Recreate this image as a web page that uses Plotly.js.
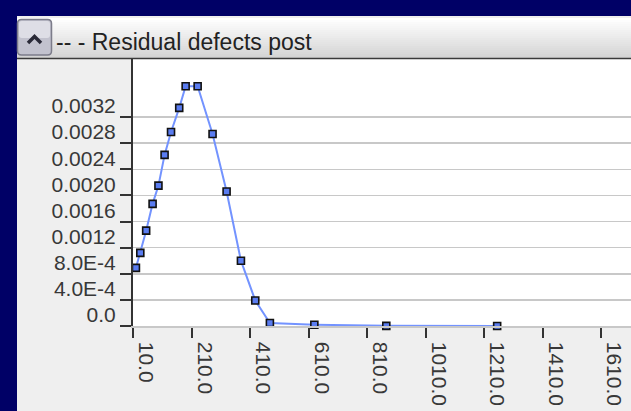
<!DOCTYPE html>
<html>
<head>
<meta charset="utf-8">
<script src="https://cdn.plot.ly/plotly-3.0.1.min.js"></script>
<style>html,body{margin:0;padding:0;background:#000066;}#chart{width:631px;height:411px;}</style>
</head>
<body>
<div id="chart"></div>
<script>
// ---- data ----
const chartTitle = "-- - Residual defects post";
const xValues = [20, 35, 55, 77, 97, 118, 140, 168, 190, 231, 282, 330, 379, 428, 478, 630, 876, 1255];
const yValues = [0.00089, 0.00112, 0.00146, 0.00187, 0.00215, 0.00262, 0.00297, 0.00334, 0.00367, 0.00367,
                 0.00294, 0.00206, 0.00100, 0.00039, 0.000046, 0.00002, 0.000002, 0.000001];
const xTickVals = [10, 210, 410, 610, 810, 1010, 1210, 1410, 1610];
const xTickText = ["10.0", "210.0", "410.0", "610.0", "810.0", "1010.0", "1210.0", "1410.0", "1610.0"];
const yTickVals = [0, 0.0004, 0.0008, 0.0012, 0.0016, 0.0020, 0.0024, 0.0028, 0.0032];
const yTickText = ["0.0", "4.0E-4", "8.0E-4", "0.0012", "0.0016", "0.0020", "0.0024", "0.0028", "0.0032"];

// ---- layout helpers (pixel -> paper) ----
const W = 631, H = 411;
const px = v => v / W;
const py = v => 1 - v / H;

const shapes = [];
// navy frame
shapes.push({type:'rect', xref:'paper', yref:'paper', x0:0, x1:px(17), y0:0, y1:1, fillcolor:'#000066', line:{width:0}});
shapes.push({type:'rect', xref:'paper', yref:'paper', x0:0, x1:1, y0:py(16), y1:1, fillcolor:'#000066', line:{width:0}});
// title bar gradient
const gTop = 18, gBot = 58, steps = 20;
for (let i = 0; i < steps; i++) {
  const t = i / (steps - 1);
  const c = Math.round(255 - t * (255 - 212));
  const y0 = gTop + (gBot - gTop) * i / steps, y1 = gTop + (gBot - gTop) * (i + 1) / steps;
  shapes.push({type:'rect', xref:'paper', yref:'paper', x0:px(17), x1:1, y0:py(y1), y1:py(y0),
    fillcolor:`rgb(${c},${c},${c})`, line:{width:0}});
}
shapes.push({type:'line', xref:'paper', yref:'paper', x0:px(17), x1:1, y0:py(58.5), y1:py(58.5), line:{color:'#3a3a3a', width:1.6}});
// collapse button
function rr(x0, y0, x1, y1, r) {
  const X = px, Y = py;
  return `M${X(x0+r)},${Y(y0)} L${X(x1-r)},${Y(y0)} Q${X(x1)},${Y(y0)} ${X(x1)},${Y(y0+r)} L${X(x1)},${Y(y1-r)} Q${X(x1)},${Y(y1)} ${X(x1-r)},${Y(y1)} L${X(x0+r)},${Y(y1)} Q${X(x0)},${Y(y1)} ${X(x0)},${Y(y1-r)} L${X(x0)},${Y(y0+r)} Q${X(x0)},${Y(y0)} ${X(x0+r)},${Y(y0)} Z`;
}
shapes.push({type:'path', xref:'paper', yref:'paper', path: rr(17.5, 19.5, 51.5, 55, 4), fillcolor:'#c2c2ce', line:{color:'#7c7c8a', width:1.5}});
shapes.push({type:'path', xref:'paper', yref:'paper', path: rr(19, 21, 50, 38, 3), fillcolor:'#dedee6', line:{width:0}});
shapes.push({type:'path', xref:'paper', yref:'paper', path:`M${px(28)},${py(43)} L${px(34.5)},${py(36.5)} L${px(41)},${py(43)}`, line:{color:'#2a2a38', width:3.5}});

const trace = {
  x: xValues, y: yValues, type:'scatter', mode:'lines+markers',
  line:{color:'#7393ff', width:2},
  marker:{symbol:'square', size:7, color:'#5a7cf0', line:{color:'#111111', width:1.6}},
  cliponaxis:false, hoverinfo:'skip'
};

const tickFont = {family:'"Liberation Sans", Arial, sans-serif', size:21, color:'#383838'};
const layout = {
  width: W, height: H,
  margin:{l:0, r:0, t:0, b:0, pad:0},
  paper_bgcolor:'#efefef', plot_bgcolor:'#ffffff',
  showlegend:false,
  xaxis:{
    domain:[133/W, 1], range:[10, 10 + 498/0.2925],
    tickmode:'array', tickvals:xTickVals, ticktext:xTickText, tickangle:90,
    ticks:'outside', ticklen:10, tickwidth:2, tickcolor:'#333333',
    tickfont:tickFont, ticklabelshift:13, ticklabelstandoff:0,
    showgrid:false, zeroline:false, showline:true, linecolor:'#c8c8c8', linewidth:1.5
  },
  yaxis:{
    domain:[(H-326)/H, (H-59)/H], range:[0, 0.004088],
    tickmode:'array', tickvals:yTickVals, ticktext:yTickText,
    ticks:'outside', ticklen:11, tickwidth:2, tickcolor:'#333333',
    tickfont:tickFont, ticklabelshift:-11, ticklabelstandoff:0,
    showgrid:true, gridcolor:'#c8c8c8', gridwidth:1.5,
    zeroline:false, showline:true, linecolor:'#333333', linewidth:2
  },
  shapes: shapes,
  annotations:[{xref:'paper', yref:'paper', x:px(54), y:py(41.5), xanchor:'left', yanchor:'middle',
    text:chartTitle, showarrow:false, font:{family:'"Liberation Sans", Arial, sans-serif', size:23, color:'#222222'}}]
};

Plotly.newPlot('chart', [trace], layout, {staticPlot:true, displayModeBar:false});
</script>
</body>
</html>
